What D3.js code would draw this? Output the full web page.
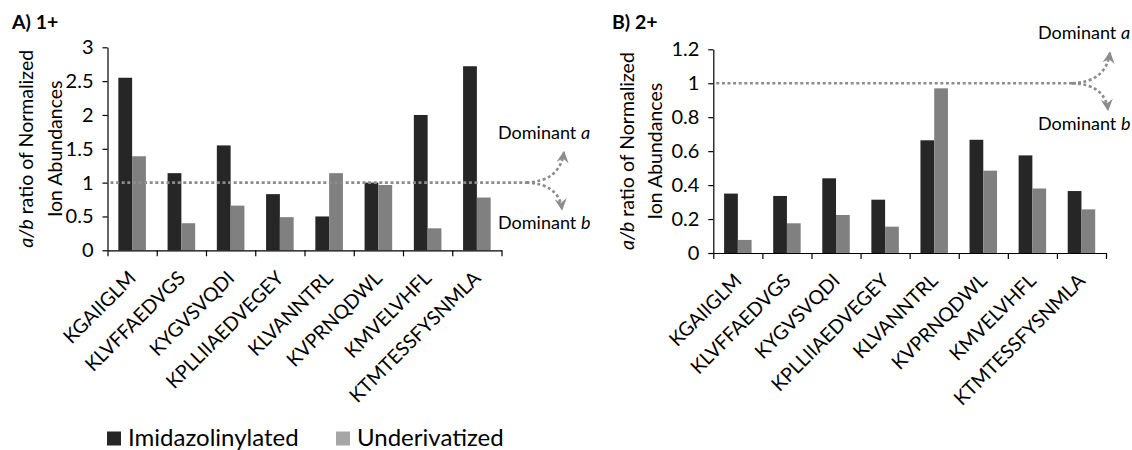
<!DOCTYPE html>
<html><head><meta charset="utf-8">
<script src="https://cdn.jsdelivr.net/npm/d3@7/dist/d3.min.js"></script>
<style>
html,body{margin:0;padding:0;background:#fff;}
text{font-family:Lato,"Open Sans",sans-serif;fill:#000;}
</style></head>
<body>
<svg id="chart" width="1132" height="450"></svg>
<script>
// ---- data ----
const peptides = ["KGAIIGLM","KLVFFAEDVGS","KYGVSVQDI","KPLLIIAEDVEGEY","KLVANNTRL","KVPRNQDWL","KMVELVHFL","KTMTESSFYSNMLA"];
const seriesNames = ["Imidazolinylated","Underivatized"];
const imidA  = [2.55, 1.14, 1.55, 0.83, 0.50, 1.00, 2.00, 2.72];
const underA = [1.39, 0.40, 0.66, 0.49, 1.14, 0.965, 0.325, 0.78];
const imidB  = [0.35, 0.336, 0.44, 0.314, 0.664, 0.667, 0.575, 0.365];
const underB = [0.077, 0.175, 0.224, 0.155, 0.97, 0.485, 0.38, 0.257];
const ticksA = [0, 0.5, 1, 1.5, 2, 2.5, 3];
const ticksB = [0, 0.2, 0.4, 0.6, 0.8, 1, 1.2];
const threshold = 1;

const barColors = ["#262626", "#808080"];
const legendColors = ["#262626", "#a6a6a6"];
const lineColor = "#8c8c8c";

const svg = d3.select("#chart");
const defs = svg.append("defs");
defs.append("marker").attr("id","arrow").attr("viewBox","-12 -7 14 14")
  .attr("markerWidth",14).attr("markerHeight",14).attr("markerUnits","userSpaceOnUse")
  .attr("refX",0).attr("refY",0).attr("orient","auto")
  .append("path").attr("d","M1,0 L-11,-6 L-7,0 L-11,6 Z").attr("fill",lineColor);

function panel(cfg){
  const g = svg.append("g");
  const y = d3.scaleLinear().domain([0, cfg.ticks[cfg.ticks.length-1]]).range([cfg.yBot, cfg.yTop]);
  const x = d3.scaleBand().domain(peptides).range([cfg.x0, cfg.x1]).paddingInner(0.44).paddingOuter(0.22);
  const xs = d3.scaleBand().domain(seriesNames).range([0, x.bandwidth()]);
  const xi = d3.scaleLinear().domain([0, peptides.length]).range([cfg.x0, cfg.x1]);

  // bars
  [cfg.imid, cfg.under].forEach((vals, si) => {
    g.append("g").selectAll("rect").data(vals).join("rect")
      .attr("x", (d,i) => x(peptides[i]) + xs(seriesNames[si]))
      .attr("width", xs.bandwidth())
      .attr("y", d => y(d))
      .attr("height", d => y(0) - y(d))
      .attr("fill", barColors[si]);
  });

  // y axis
  const ya = g.append("g").attr("transform", `translate(${cfg.x0},0)`)
    .call(d3.axisLeft(y).tickValues(cfg.ticks).tickFormat(d => String(d)).tickSize(5).tickSizeOuter(0).tickPadding(9));
  ya.selectAll("path,line").attr("stroke","#000").attr("stroke-width",1.2);
  ya.selectAll("text").style("font-size","20px").style("font-family","Lato");

  // x axis
  const xa = g.append("g").attr("transform", `translate(0,${cfg.yBot})`)
    .call(d3.axisBottom(xi).tickValues(d3.range(peptides.length+1)).tickFormat("").tickSize(6).tickSizeOuter(0));
  xa.selectAll("path,line").attr("stroke","#000").attr("stroke-width",1.2);

  const xl = g.append("g").attr("transform", `translate(0,${cfg.yBot})`)
    .call(d3.axisBottom(x).tickSize(0).tickPadding(0));
  xl.select(".domain").remove();
  xl.selectAll("text")
    .style("font-size","19.5px").style("font-family","Lato")
    .attr("text-anchor","end")
    .attr("dy", null).attr("y", null)
    .attr("transform","translate(5,29) rotate(-45)");

  // threshold line with arrows
  const yl = y(threshold);
  const ex = cfg.lineEnd;
  g.append("path")
    .attr("d", `M${cfg.x0+3},${yl} L${ex},${yl}`)
    .attr("stroke", lineColor).attr("stroke-width",2.6).attr("stroke-dasharray","3,2.6").attr("fill","none");
  g.append("path")
    .attr("d", `M${ex-4},${yl} Q${ex+30},${yl-1} ${ex+34},${yl-31}`)
    .attr("stroke", lineColor).attr("stroke-width",2.6).attr("stroke-dasharray","3,2.6").attr("fill","none")
    .attr("marker-end","url(#arrow)");
  g.append("path")
    .attr("d", `M${ex-4},${yl} Q${ex+29},${yl+1} ${ex+32},${yl+27}`)
    .attr("stroke", lineColor).attr("stroke-width",2.6).attr("stroke-dasharray","3,2.6").attr("fill","none")
    .attr("marker-end","url(#arrow)");

  const ta = g.append("text").attr("x", cfg.domX).attr("y", cfg.domAy).style("font-size","18px");
  ta.append("tspan").text("Dominant ");
  ta.append("tspan").text("a").style("font-style","italic");
  const tb = g.append("text").attr("x", cfg.domX).attr("y", cfg.domBy).style("font-size","18px");
  tb.append("tspan").text("Dominant ");
  tb.append("tspan").text("b").style("font-style","italic");

  // title
  g.append("text").attr("x", cfg.titleX).attr("y", 29).text(cfg.title)
    .style("font-size","19.5px").style("font-weight","bold");

  // y axis title
  const cy = (cfg.yTop + cfg.yBot)/2;
  const t1 = g.append("text").attr("transform", `translate(${cfg.yt1},${cy}) rotate(-90)`)
    .attr("text-anchor","middle").style("font-size","19.5px");
  t1.append("tspan").text("a/b").style("font-style","italic");
  t1.append("tspan").text(" ratio of Normalized");
  g.append("text").attr("transform", `translate(${cfg.yt2},${cy}) rotate(-90)`)
    .attr("text-anchor","middle").style("font-size","19.5px").text("Ion Abundances");
}

panel({x0:107.5, x1:501.5, yTop:47.3, yBot:250.3, ticks:ticksA, imid:imidA, under:underA,
       lineEnd:530, domX:498, domAy:139, domBy:229, title:"A) 1+", titleX:12, yt1:33, yt2:62});
panel({x0:713.3, x1:1106, yTop:49.3, yBot:253, ticks:ticksB, imid:imidB, under:underB,
       lineEnd:1076, domX:1038, domAy:39, domBy:130, title:"B) 2+", titleX:612, yt1:634, yt2:662});

// legend
const lg = svg.append("g");
const lx = d3.scaleOrdinal().domain(seriesNames).range([107, 336]);
seriesNames.forEach((s,i) => {
  lg.append("rect").attr("x", lx(s)).attr("y", 431.5).attr("width", 14).attr("height", 14).attr("fill", legendColors[i]);
  lg.append("text").attr("x", lx(s) + 21).attr("y", 445.5).text(s).style("font-size","24px");
});
</script>
</body></html>
